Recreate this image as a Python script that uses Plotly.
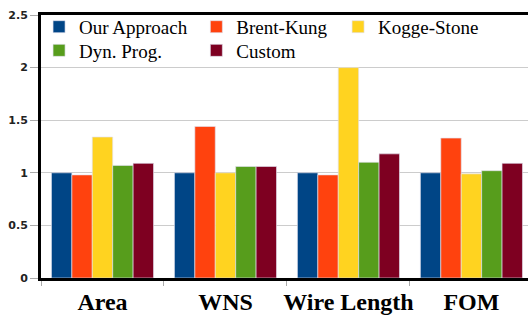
import plotly.graph_objects as go

categories = ["Area", "WNS", "Wire Length", "FOM"]
series_names = ["Our Approach", "Brent-Kung", "Kogge-Stone", "Dyn. Prog.", "Custom"]
our_approach = [1.00, 1.00, 1.00, 1.00]
brent_kung = [0.98, 1.44, 0.98, 1.33]
kogge_stone = [1.34, 1.00, 2.00, 0.99]
dyn_prog = [1.07, 1.06, 1.10, 1.02]
custom = [1.09, 1.06, 1.18, 1.09]
y_ticks = [0, 0.5, 1, 1.5, 2, 2.5]

values = [our_approach, brent_kung, kogge_stone, dyn_prog, custom]
colors = ["#004586", "#ff420e", "#ffd320", "#579d1c", "#7e0021"]
legend_ids = ["legend", "legend2", "legend3", "legend4", "legend5"]
# legend positions (paper coords)
legend_pos = [(-0.004, 0.955), (0.319, 0.955), (0.610, 0.955), (-0.004, 0.865), (0.319, 0.865)]

fig = go.Figure()
for name, vals, col, lid in zip(series_names, values, colors, legend_ids):
    fig.add_trace(go.Bar(
        x=categories, y=vals, name=name, legend=lid,
        marker=dict(color=col, line=dict(color="rgba(225,225,240,0.8)", width=0.8)),
    ))

layout_legends = {}
for lid, (lx, ly) in zip(legend_ids, legend_pos):
    layout_legends[lid] = dict(
        x=lx, y=ly, xanchor="left", yanchor="middle",
        bgcolor="rgba(0,0,0,0)", borderwidth=0,
        font=dict(family="Liberation Serif, Times New Roman, serif", size=19, color="#000"),
    )

fig.update_layout(
    width=528, height=317,
    margin=dict(l=41, r=0, t=15, b=39, autoexpand=False),
    paper_bgcolor="white", plot_bgcolor="white",
    barmode="group", bargap=0.17, bargroupgap=0,
    showlegend=True,
    **layout_legends,
)
fig.update_xaxes(
    range=[-0.5, 3.46], showline=True, linecolor="black", linewidth=3, mirror=True,
    ticks="outside", tickson="boundaries", ticklen=5, tickcolor="#aaaaaa", tickwidth=1,
    tickangle=0, automargin=False,
    tickfont=dict(family="Liberation Serif, Times New Roman, serif", size=24, color="#000", weight="bold"),
    showgrid=False,
)
fig.update_yaxes(
    range=[0, 2.5], tickvals=y_ticks, ticktext=[str(v) if v % 1 else str(int(v)) for v in y_ticks],
    showline=True, linecolor="black", linewidth=3, automargin=False, mirror=False,
    ticks="outside", ticklen=8, tickcolor="#aaaaaa", tickwidth=1,
    tickfont=dict(family="DejaVu Sans", size=11, color="#222", weight="bold"),
    showgrid=True, gridcolor="#cccccc", gridwidth=1, zeroline=False,
)

fig.write_html(
    "out.html",
    config={"displayModeBar": False},
    post_script="document.body.style.margin='0';document.body.style.overflow='hidden';document.documentElement.style.overflow='hidden';",
)
